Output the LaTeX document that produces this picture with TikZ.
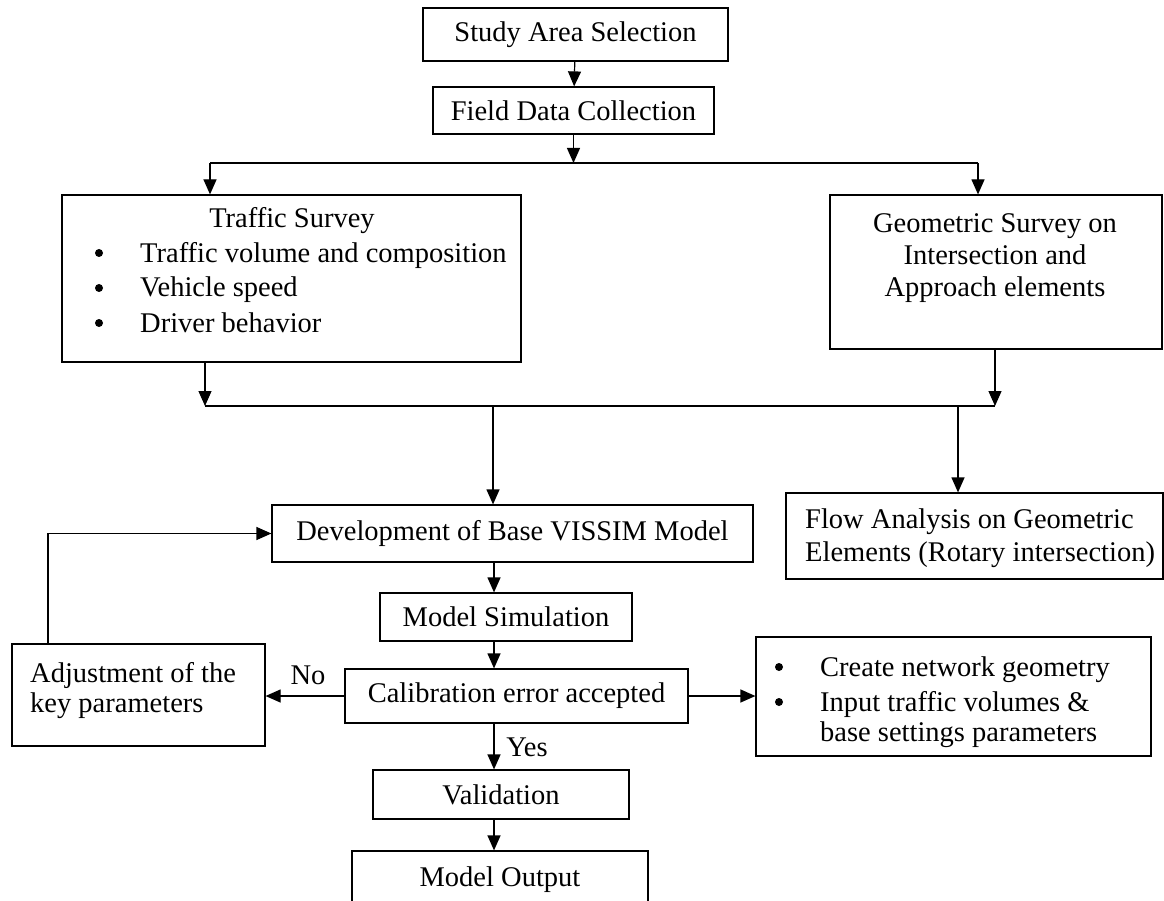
\documentclass[tikz,border=0pt]{standalone}
\usepackage{fontspec}
\setmainfont{Liberation Serif}
\usetikzlibrary{positioning,arrows.meta}

\begin{document}
\begin{tikzpicture}[
    x=1pt, y=-1pt,
    every node/.style={font=\fontsize{28.5}{35}\selectfont, text=black},
    stepbox/.style={rectangle, draw=black, line width=1.2pt, inner sep=0pt,
        text centered},
    plain/.style={inner sep=0pt, align=left},
    dot/.style={circle, fill=black, inner sep=0pt, minimum size=8pt},
    flow/.style={-{Triangle[length=15pt,width=13pt]}, line width=1.2pt},
    link/.style={line width=1.2pt}
]
\useasboundingbox (0,0) rectangle (1164,901);
\clip (0,0) rectangle (1164,901);

\node (study) [stepbox, minimum width=305pt, minimum height=53pt] at (575.5,34.5) {Study Area Selection};
\node (field) [stepbox, minimum width=281pt, minimum height=47pt] at (573.5,110.5) {Field Data Collection};

\node (traffic) [stepbox, minimum width=459pt, minimum height=167pt] at (291.5,278.5) {};
\node (trafficttl) [plain, anchor=base] at (292,228) {Traffic Survey};
\foreach \txt [count=\i] in {Traffic volume and composition, Vehicle speed, Driver behavior} {
    \node (tbul\i) [dot] at (99,218+35*\i) {};
    \node (titem\i) [plain, anchor=base west] at (140,227+35*\i) {\txt};
}

\node (geo) [stepbox, minimum width=332pt, minimum height=154pt] at (996,272) {};
\node (geotxt) [plain, align=center, anchor=base, font=\fontsize{28.5}{32}\selectfont] at (995,296) {Geometric Survey on\\Intersection and\\Approach elements};

\node (dev) [stepbox, minimum width=481pt, minimum height=57pt] at (512.5,533.5) {Development of Base VISSIM Model};
\node (flowan) [stepbox, minimum width=377pt, minimum height=86pt] at (974.5,536) {};
\node (flowtxt) [plain, anchor=base west, font=\fontsize{28.5}{33}\selectfont] at (805,561) {Flow Analysis on Geometric\\Elements (Rotary intersection)};

\node (sim) [stepbox, minimum width=252pt, minimum height=48pt] at (506,617) {Model Simulation};
\node (calib) [stepbox, minimum width=343pt, minimum height=54pt] at (516.5,696) {Calibration error accepted};

\node (adjust) [stepbox, minimum width=253pt, minimum height=102pt] at (138.5,695) {};
\node (adjtxt) [plain, anchor=base west, font=\fontsize{28.5}{30}\selectfont] at (30,712) {Adjustment of the\\key parameters};

\node (setup) [stepbox, minimum width=395pt, minimum height=119pt] at (953.5,696.5) {};
\node (sbul1) [dot] at (779,667) {};
\node (sitem1) [plain, anchor=base west] at (820,676) {Create network geometry};
\node (sbul2) [dot] at (779,702) {};
\node (sitem2) [plain, anchor=base west, font=\fontsize{28.5}{30}\selectfont] at (820,741) {Input traffic volumes \&\\base settings parameters};

\node (valid) [stepbox, minimum width=256pt, minimum height=49pt] at (501,794.5) {Validation};
\node (output) [stepbox, minimum width=296pt, minimum height=100pt] at (500,901) {};
\node (outtxt) [plain, anchor=base] at (500,886) {Model Output};

% connectors
\coordinate (split) at (573.5,163);
\coordinate (tsplit) at (210,163);
\coordinate (gsplit) at (978,163);
\coordinate (tjoin) at (205,406);
\coordinate (gjoin) at (995,406);
\coordinate (djoin) at (493,406);
\coordinate (fjoin) at (958,406);
\coordinate (col) at (494,0);
\coordinate (back) at (48,533.5);

\draw[flow] (study) -- (field);
\draw[flow] (field) -- (split);
\draw[link] (tsplit) -- (gsplit);
\draw[flow] (tsplit) -- (tsplit |- traffic.north);
\draw[flow] (gsplit) -- (gsplit |- geo.north);

\draw[flow] (tjoin |- traffic.south) -- (tjoin);
\draw[flow] (gjoin |- geo.south) -- (gjoin);
\draw[link] (tjoin) -- (gjoin);
\draw[flow] (djoin) -- (djoin |- dev.north);
\draw[flow] (fjoin) -- (fjoin |- flowan.north);

\draw[flow] (col |- dev.south) -- (col |- sim.north);
\draw[flow] (col |- sim.south) -- (col |- calib.north);
\draw[flow] (calib.west) -- (calib.west -| adjust.east);
\node (no) [plain, anchor=base] at (308,684) {No};
\draw[flow] (calib.east) -- (calib.east -| setup.west);
\draw[flow] (col |- calib.south) -- (col |- valid.north);
\node (yes) [plain, anchor=base] at (527,756) {Yes};
\draw[flow] (col |- valid.south) -- (col |- output.north);
\draw[flow] (back |- adjust.north) -- (back) -- (back -| dev.west);

\end{tikzpicture}
\end{document}
